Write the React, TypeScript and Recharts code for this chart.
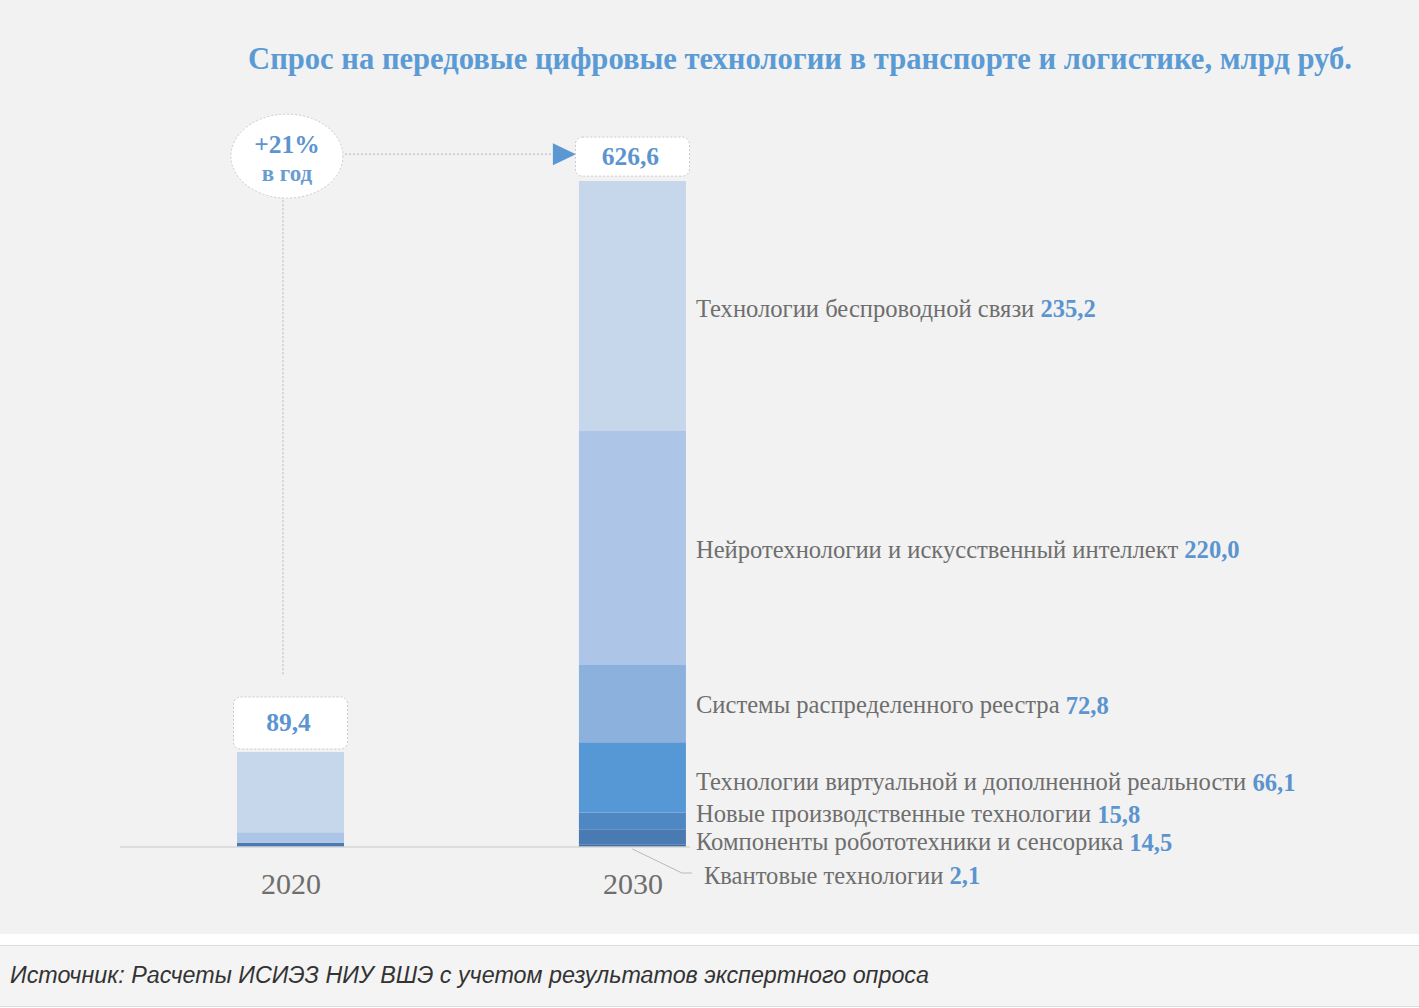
import React from 'react';
import { BarChart, Bar, XAxis, YAxis, LabelList, ReferenceLine } from 'recharts';

// ---------- DATA ----------
const years = [2020, 2030];
const totals = [89.4, 626.6];
const growthText = ['+21%', 'в год'];
const seriesNames = [
  'Квантовые технологии',
  'Компоненты робототехники и сенсорика',
  'Новые производственные технологии',
  'Технологии виртуальной и дополненной реальности',
  'Системы распределенного реестра',
  'Нейротехнологии и искусственный интеллект',
  'Технологии беспроводной связи',
];
const quantum = [0, 2.1];
const robotics = [3.9, 14.5];
const newProduction = [0, 15.8];
const vrAr = [0, 66.1];
const ledger = [0, 72.8];
const aiNeuro = [9.9, 220.0];
const wireless = [75.6, 235.2];
const title = 'Спрос на передовые цифровые технологии в транспорте и логистике, млрд руб.';
const sourceText = 'Источник: Расчеты ИСИЭЗ НИУ ВШЭ с учетом результатов экспертного опроса';

const seriesValues = [quantum, robotics, newProduction, vrAr, ledger, aiNeuro, wireless];
const seriesKeys = ['quantum', 'robotics', 'newProduction', 'vrAr', 'ledger', 'aiNeuro', 'wireless'];

// ---------- STYLE ----------
const seriesColors = ['#3f6b9e', '#4a7ab2', '#4f87c3', '#5698d5', '#8cb1dd', '#adc6e7', '#c6d7ec'];
const labelDy = [0, 4.5, -7, 4.5, 1, 1, 2];
const BLUE = '#5b94cf';
const GRAY_TEXT = '#6e6e6e';
const SERIF = '"Liberation Serif", "Times New Roman", serif';
const LABEL_FS = 24.6;
const GROWTH_Y = 650;

const data = years.map((year, i) => {
  const row: any = { year, total: totals[i] };
  seriesKeys.forEach((k, s) => {
    row[k] = seriesValues[s][i];
  });
  return row;
});

const fmt = (v: number) => v.toFixed(1).replace('.', ',');

const makeSideLabel = (s: number) => (props: any) => {
  const { x, y, width, height, value } = props;
  const v = Number(value);
  if (v !== seriesValues[s][1] || v === seriesValues[s][0]) return null;
  const right = Number(x) + Number(width);
  if (s === 0) {
    const by = Number(y) + Math.max(0, Number(height));
    const ly = by + 26;
    return (
      <g>
        <polyline
          points={`${Number(x) + Number(width) / 2},${by + 2} ${right - 4},${ly} ${right + 6},${ly}`}
          fill="none"
          stroke="#b9b9b9"
          strokeWidth={1}
        />
        <text x={right + 18} y={ly + 2} dominantBaseline="central" fontFamily={SERIF} fontSize={LABEL_FS} fill={GRAY_TEXT}>
          {seriesNames[s] + ' '}
          <tspan fontWeight="bold" fill={BLUE}>{fmt(v)}</tspan>
        </text>
      </g>
    );
  }
  const cy = Number(y) + Number(height) / 2 + labelDy[s];
  return (
    <text x={right + 10} y={cy} dominantBaseline="central" fontFamily={SERIF} fontSize={LABEL_FS} fill={GRAY_TEXT}>
      {seriesNames[s] + ' '}
      <tspan fontWeight="bold" fill={BLUE}>{fmt(v)}</tspan>
    </text>
  );
};

const boxH = [52, 39];
const boxGap = [3, 5];

const TotalLabel = (props: any) => {
  const { x, y, width, value } = props;
  const idx = totals.indexOf(Number(value));
  if (idx < 0) return null;
  const cx = Number(x) + Number(width) / 2;
  const h = boxH[idx];
  const bottom = Number(y) - boxGap[idx];
  const w = 114;
  return (
    <g>
      <rect
        x={cx - w / 2}
        y={bottom - h}
        width={w}
        height={h}
        rx={7}
        fill="#ffffff"
        stroke="#c9c9c9"
        strokeDasharray="2 2"
      />
      <text
        x={cx - 2}
        y={bottom - h / 2}
        textAnchor="middle"
        dominantBaseline="central"
        fontFamily={SERIF}
        fontWeight="bold"
        fontSize={25.5}
        fill={BLUE}
      >
        {fmt(totals[idx])}
      </text>
    </g>
  );
};

const YearTick = (props: any) => {
  const { x, y, payload } = props;
  return (
    <text x={x} y={Number(y) + 47} textAnchor="middle" fontFamily={SERIF} fontSize={30} fill="#6e6e6e">
      {payload.value}
    </text>
  );
};

const HorizontalConnector = (props: any) => {
  const xa = Math.min(Number(props.x1), Number(props.x2));
  const xb = Math.max(Number(props.x1), Number(props.x2));
  const yy = Number(props.y1) - 2;
  return (
    <g>
      <line x1={xa + 50} y1={yy} x2={xb - 80} y2={yy} stroke="#b4c0d0" strokeDasharray="2 2" strokeWidth={1.3} />
      <polygon points={`${xb - 80},${yy - 11} ${xb - 80},${yy + 11} ${xb - 57},${yy}`} fill="#5a97d3" />
    </g>
  );
};

const VerticalConnector = (props: any) => {
  const ya = Math.min(Number(props.y1), Number(props.y2));
  const yb = Math.max(Number(props.y1), Number(props.y2));
  const xx = Number(props.x1) - 8;
  const cx = Number(props.x1) - 4;
  return (
    <g>
      <line x1={xx} y1={ya + 40} x2={xx} y2={yb - 77} stroke="#c4c4c4" strokeDasharray="2 2" strokeWidth={1.3} />
      <ellipse cx={cx} cy={ya} rx={56} ry={42} fill="#ffffff" stroke="#cbcbcb" strokeDasharray="2 2" />
      <text x={cx} y={ya - 12} textAnchor="middle" dominantBaseline="central" fontFamily={SERIF} fontWeight="bold" fontSize={25.5} fill={BLUE}>
        {growthText[0]}
      </text>
      <text x={cx} y={ya + 17} textAnchor="middle" dominantBaseline="central" fontFamily={SERIF} fontWeight="bold" fontSize={23} fill="#6b9cd0">
        {growthText[1]}
      </text>
    </g>
  );
};

export default function App() {
  return (
    <div style={{ position: 'absolute', left: 0, top: 0, width: 1419, height: 1008, background: '#ffffff', overflow: 'hidden' }}>
      <div style={{ position: 'absolute', left: 0, top: 0, width: 1419, height: 934, background: '#f2f2f2' }} />
      <div
        style={{
          position: 'absolute',
          left: 0,
          top: 44,
          width: 1600,
          textAlign: 'center',
          fontFamily: SERIF,
          fontWeight: 'bold',
          fontSize: 30.6,
          lineHeight: '30.5px',
          color: '#5b9bd5',
          whiteSpace: 'nowrap',
        }}
      >
        {title}
      </div>
      <div style={{ position: 'absolute', left: 0, top: 0 }}>
        <BarChart
          width={1419}
          height={1008}
          data={data}
          margin={{ top: 103, right: 729, bottom: 121, left: 120 }}
          barSize={107}
        >
          <XAxis
            dataKey="year"
            type="number"
            domain={[2015, 2031.67]}
            ticks={years}
            height={40}
            tickLine={false}
            tickSize={0}
            tickMargin={0}
            axisLine={{ stroke: '#d6d6d6', strokeWidth: 1.5 }}
            tick={<YearTick />}
            allowDataOverflow
          />
          <YAxis hide domain={[0, 700]} />
          {seriesKeys.map((k, s) => (
            <Bar key={k} dataKey={k} stackId="a" fill={seriesColors[s]} isAnimationActive={false}>
              <LabelList dataKey={k} content={makeSideLabel(s)} />
              {s === seriesKeys.length - 1 ? <LabelList dataKey="total" content={<TotalLabel />} /> : null}
            </Bar>
          ))}
          <ReferenceLine
            segment={[
              { x: years[0], y: GROWTH_Y },
              { x: years[1], y: GROWTH_Y },
            ]}
            stroke="none"
            shape={<HorizontalConnector />}
          />
          <ReferenceLine
            segment={[
              { x: years[0], y: GROWTH_Y },
              { x: years[0], y: totals[0] },
            ]}
            stroke="none"
            shape={<VerticalConnector />}
          />
        </BarChart>
      </div>
      <div
        style={{
          position: 'absolute',
          left: 0,
          top: 945,
          width: 1419,
          height: 60,
          background: '#f4f4f4',
          borderTop: '1px solid #dcdcdc',
          borderBottom: '1px solid #dcdcdc',
        }}
      />
      <div
        style={{
          position: 'absolute',
          left: 10,
          top: 962,
          fontFamily: '"Liberation Sans", Arial, sans-serif',
          fontStyle: 'italic',
          fontSize: 23.3,
          lineHeight: '26px',
          color: '#333333',
          whiteSpace: 'nowrap',
        }}
      >
        {sourceText}
      </div>
    </div>
  );
}
